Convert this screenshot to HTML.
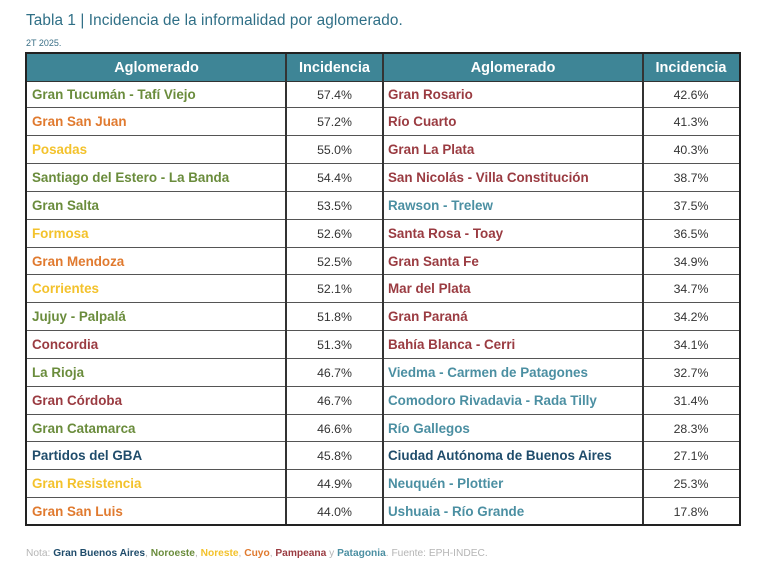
<!DOCTYPE html>
<html><head><meta charset="utf-8">
<style>
html,body{margin:0;padding:0;background:#fff;}
body{width:768px;height:577px;position:relative;overflow:hidden;font-family:"Liberation Sans",sans-serif;}
.title{position:absolute;left:26px;top:12px;font-size:15.3px;color:#2f6f86;white-space:nowrap;letter-spacing:0.1px;}
.sub{position:absolute;left:26px;top:38px;font-size:9px;color:#3a6f86;}
.tbl{position:absolute;left:25px;top:52px;width:716px;height:474px;border:2px solid #222;box-sizing:border-box;}
.hdr{position:absolute;left:0;top:0;width:712px;height:27px;background:#3e8596;border-bottom:1.5px solid #333;}
.hdr span{position:absolute;top:0;line-height:28px;color:#fff;font-weight:bold;font-size:14.5px;text-align:center;}
.row{position:absolute;left:0;width:712px;height:27.84px;border-bottom:1.5px solid #555;box-sizing:border-box;}
.row span{position:absolute;top:0;line-height:28px;font-size:13.4px;white-space:nowrap;}
.n1{left:5px;font-weight:bold;}
.n2{left:361px;font-weight:bold;}
.p1{left:259px;width:97px;text-align:center;color:#333;font-size:12.3px!important;}
.p2{left:616px;width:96px;text-align:center;color:#333;font-size:12.3px!important;}
.vl{position:absolute;top:0;width:2px;height:470px;background:#333;}
.g{color:#6a8c3c}.o{color:#e07a2f}.y{color:#f3c22c}.r{color:#9a3b41}.b{color:#1f4c6b}.t{color:#4b8fa2}
.note{position:absolute;left:26px;top:548px;font-size:10.2px;color:#b5b5b5;white-space:nowrap;}
.note b{font-weight:bold;}
</style></head><body>
<div class="title">Tabla 1 | Incidencia de la informalidad por aglomerado.</div>
<div class="sub">2T 2025.</div>
<div class="tbl">
<div class="hdr">
<span style="left:0;width:259px">Aglomerado</span>
<span style="left:259px;width:97px">Incidencia</span>
<span style="left:356px;width:260px">Aglomerado</span>
<span style="left:616px;width:96px">Incidencia</span>
</div>
<div id="rows">
<div class="row" style="top:26.5px"><span class="n1 g">Gran Tucumán - Tafí Viejo</span><span class="p1">57.4%</span><span class="n2 r">Gran Rosario</span><span class="p2">42.6%</span></div>
<div class="row" style="top:54.3px"><span class="n1 o">Gran San Juan</span><span class="p1">57.2%</span><span class="n2 r">Río Cuarto</span><span class="p2">41.3%</span></div>
<div class="row" style="top:82.2px"><span class="n1 y">Posadas</span><span class="p1">55.0%</span><span class="n2 r">Gran La Plata</span><span class="p2">40.3%</span></div>
<div class="row" style="top:110px"><span class="n1 g">Santiago del Estero - La Banda</span><span class="p1">54.4%</span><span class="n2 r">San Nicolás - Villa Constitución</span><span class="p2">38.7%</span></div>
<div class="row" style="top:137.9px"><span class="n1 g">Gran Salta</span><span class="p1">53.5%</span><span class="n2 t">Rawson - Trelew</span><span class="p2">37.5%</span></div>
<div class="row" style="top:165.7px"><span class="n1 y">Formosa</span><span class="p1">52.6%</span><span class="n2 r">Santa Rosa - Toay</span><span class="p2">36.5%</span></div>
<div class="row" style="top:193.5px"><span class="n1 o">Gran Mendoza</span><span class="p1">52.5%</span><span class="n2 r">Gran Santa Fe</span><span class="p2">34.9%</span></div>
<div class="row" style="top:221.4px"><span class="n1 y">Corrientes</span><span class="p1">52.1%</span><span class="n2 r">Mar del Plata</span><span class="p2">34.7%</span></div>
<div class="row" style="top:249.2px"><span class="n1 g">Jujuy - Palpalá</span><span class="p1">51.8%</span><span class="n2 r">Gran Paraná</span><span class="p2">34.2%</span></div>
<div class="row" style="top:277.1px"><span class="n1 r">Concordia</span><span class="p1">51.3%</span><span class="n2 r">Bahía Blanca - Cerri</span><span class="p2">34.1%</span></div>
<div class="row" style="top:304.9px"><span class="n1 g">La Rioja</span><span class="p1">46.7%</span><span class="n2 t">Viedma - Carmen de Patagones</span><span class="p2">32.7%</span></div>
<div class="row" style="top:332.7px"><span class="n1 r">Gran Córdoba</span><span class="p1">46.7%</span><span class="n2 t">Comodoro Rivadavia - Rada Tilly</span><span class="p2">31.4%</span></div>
<div class="row" style="top:360.6px"><span class="n1 g">Gran Catamarca</span><span class="p1">46.6%</span><span class="n2 t">Río Gallegos</span><span class="p2">28.3%</span></div>
<div class="row" style="top:388.4px"><span class="n1 b">Partidos del GBA</span><span class="p1">45.8%</span><span class="n2 b">Ciudad Autónoma de Buenos Aires</span><span class="p2">27.1%</span></div>
<div class="row" style="top:416.3px"><span class="n1 y">Gran Resistencia</span><span class="p1">44.9%</span><span class="n2 t">Neuquén - Plottier</span><span class="p2">25.3%</span></div>
<div class="row" style="top:444.1px;border-bottom:none"><span class="n1 o">Gran San Luis</span><span class="p1">44.0%</span><span class="n2 t">Ushuaia - Río Grande</span><span class="p2">17.8%</span></div>
</div>
<div class="vl" style="left:258px"></div>
<div class="vl" style="left:355px"></div>
<div class="vl" style="left:615px"></div>
</div>
<div class="note">Nota: <b style="color:#1f4c6b">Gran Buenos Aires</b>, <b style="color:#6a8c3c">Noroeste</b>, <b style="color:#f3c22c">Noreste</b>, <b style="color:#e07a2f">Cuyo</b>, <b style="color:#9a3b41">Pampeana</b> y <b style="color:#4b8fa2">Patagonia</b>. Fuente: EPH-INDEC.</div>
</body></html>
